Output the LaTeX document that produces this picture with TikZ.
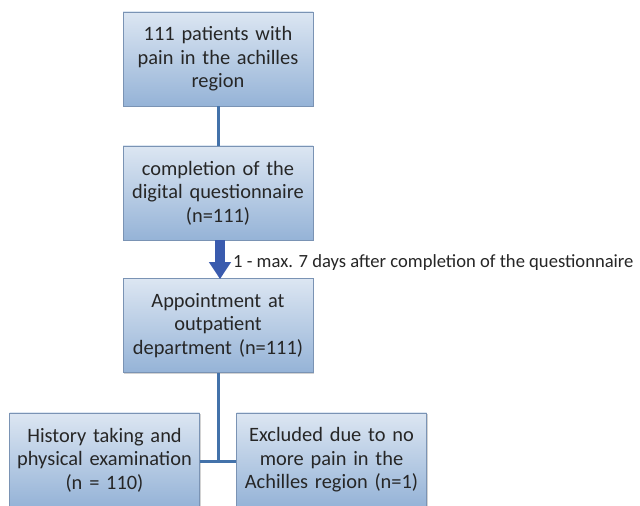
\documentclass[tikz,border=0pt]{standalone}
\usepackage{fontspec}
\setmainfont{Carlito}
\usetikzlibrary{arrows.meta,shadows}
\definecolor{boxtop}{HTML}{DCE6F2}
\definecolor{boxbot}{HTML}{95B3D7}
\definecolor{boxedge}{HTML}{7A93B4}
\definecolor{linkcol}{HTML}{4372AA}
\definecolor{arrcol}{HTML}{3A5BAE}
\definecolor{txt}{HTML}{262626}
\tikzset{
  flowbox/.style={draw=boxedge, line width=0.8pt, top color=boxtop, bottom color=boxbot,
    minimum width=190pt, minimum height=94pt, text width=188pt, align=center,
    font=\fontsize{20.4}{23.5}\selectfont, text=txt, inner sep=0pt,
    drop shadow={opacity=0.35, shadow xshift=1.2pt, shadow yshift=-1.5pt}},
  link/.style={draw=linkcol, line width=3pt},
  bigarrow/.style={draw=arrcol, line width=10pt, -{Triangle[width=21pt,length=17pt]}},
  note/.style={font=\fontsize{18.6}{20}\selectfont, text=txt, anchor=west, inner sep=0pt}
}
\begin{document}
\begin{tikzpicture}[x=1pt,y=1pt]
\useasboundingbox[fill=white] (0,0) rectangle (640,506);
\node[flowbox] (a) at (218,447) {111 patients with\\pain in the achilles\\region};
\node[flowbox] (b) at (218,313) {completion of the\\digital questionnaire\\(n=111)};
\node[flowbox] (c) at (218,180.5) {Appointment at\\outpatient\\department (n=111)};
\node[flowbox] (d) at (104.5,46) {History taking and\\physical examination\\(n = 110)};
\node[flowbox] (e) at (331.5,46) {Excluded  due to no\\more pain in the\\Achilles region (n=1)};
\coordinate (j) at (218,44);
\draw[link] (a.south) -- (b.north);
\draw[link] (c.south) -- (j);
\draw[link] (d.east |- j) -- (e.west |- j);
\draw[bigarrow] ([xshift=2pt]b.south) -- ([xshift=2pt,yshift=-1pt]c.north);
\node[note] (lbl) at (233,243) {1 - max. 7 days after completion of the questionnaire};
\end{tikzpicture}
\end{document}
